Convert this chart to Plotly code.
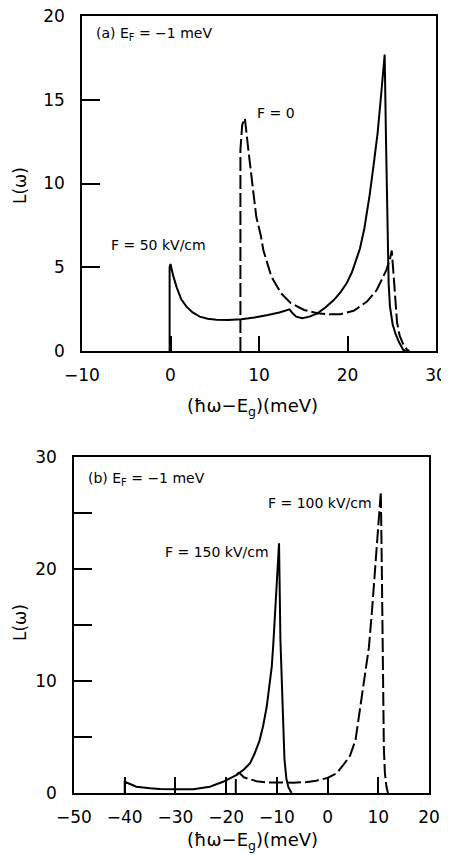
import plotly.graph_objects as go

# ---------------- data ----------------
# Panel (a): E_F = -1 meV
a_f0_x = [7.9, 7.9, 8.1, 8.4, 8.8, 9.0, 9.4, 9.7, 10.2, 10.5, 11.4, 12.5, 13.6, 15.1,
          16.6, 18.1, 19.2, 20.7, 22.2, 23.3, 24.4, 24.8, 25.0, 25.2, 25.4, 25.6, 25.9,
          26.3, 26.7, 27.0]
a_f0_y = [0.0, 12.0, 13.5, 13.9, 12.0, 11.0, 9.3, 8.0, 6.9, 6.0, 4.44, 3.44, 2.85, 2.45,
          2.25, 2.19, 2.2, 2.4, 2.95, 3.64, 4.84, 5.5, 6.0, 4.6, 2.8, 1.7, 0.9,
          0.4, 0.1, 0.0]

a_f50_x = [-0.1, -0.1, 0.0, 0.3, 0.7, 1.2, 1.8, 2.5, 3.3, 4.2, 5.2, 6.5, 8.0, 9.5, 11.0,
           12.3, 13.45, 13.8, 14.2, 14.9, 15.7, 16.6, 17.5, 18.45, 19.2, 19.9, 20.5, 21.0,
           21.4, 21.9, 22.5, 23.0, 23.4, 23.8, 24.2, 24.35, 24.5, 24.65, 24.8, 25.1, 25.4,
           25.8, 26.3, 26.7]
a_f50_y = [0.0, 5.0, 5.2, 4.5, 3.8, 3.1, 2.65, 2.3, 2.05, 1.93, 1.87, 1.85, 1.9, 2.0, 2.15,
           2.3, 2.49, 2.25, 2.05, 1.95, 2.05, 2.25, 2.6, 3.04, 3.5, 4.04, 4.7, 5.43,
           6.1, 7.3, 9.3, 11.3, 13.0, 15.3, 17.7, 12.6, 6.6, 4.0, 2.65, 1.6, 1.06,
           0.55, 0.06, 0.0]

# Panel (b): E_F = -1 meV
b_f150_x = [-40.0, -40.0, -39.3, -37.7, -35.0, -33.1, -29.7, -26.5, -23.2, -20.6, -18.0,
            -16.5, -15.3, -14.4, -13.4, -12.7, -12.0, -11.3, -11.0, -10.7, -10.35, -9.9,
            -9.57, -9.3, -9.0, -8.8, -8.5, -8.1, -7.7, -7.1]
b_f150_y = [0.0, 1.0, 0.87, 0.56, 0.42, 0.36, 0.33, 0.33, 0.56, 1.0, 1.6,
            2.1, 2.65, 3.5, 4.7, 6.0, 7.7, 10.1, 11.3, 13.3, 16.0, 19.0,
            22.3, 13.7, 9.5, 5.5, 3.0, 1.2, 0.5, 0.0]

b_f100_x = [-18.1, -18.1, -17.6, -17.3, -16.5, -15.3, -14.0, -12.0, -9.0, -6.8, -4.0, -2.2,
            0.0, 1.76, 3.1, 4.4, 5.5, 6.6, 7.4, 8.15, 8.8, 9.37, 10.0, 10.5, 10.7, 10.9,
            11.1, 11.3, 11.6, 11.9]
b_f100_y = [0.0, 1.46, 1.8, 1.76, 1.4, 1.22, 1.05, 0.95, 0.9, 0.92, 0.98, 1.1,
            1.35, 1.76, 2.5, 3.3, 4.7, 8.2, 10.8, 13.0, 16.5, 19.9, 24.4, 26.9, 19.9, 11.0,
            4.0, 1.8, 0.6, 0.0]

a_xticks = [-10, 0, 10, 20, 30]
a_yticks = [0, 5, 10, 15, 20]
b_xticks = [-50, -40, -30, -20, -10, 0, 10, 20]
b_yticks = [0, 5, 10, 15, 20, 25, 30]
b_yticklabels = ["0", "", "10", "", "20", "", "30"]

# ---------------- figure ----------------
FONT = "DejaVu Sans"
OFF = 8                      # page body margin in the browser
W, H = 449 - OFF, 855 - OFF
solid = dict(color="black", width=2)
dashed = dict(color="black", width=2, dash="14px,4px")

fig = go.Figure()
fig.add_trace(go.Scatter(x=a_f0_x, y=a_f0_y, mode="lines", line=dashed,
                         xaxis="x", yaxis="y", showlegend=False))
fig.add_trace(go.Scatter(x=a_f50_x, y=a_f50_y, mode="lines", line=solid,
                         xaxis="x", yaxis="y", showlegend=False))
fig.add_trace(go.Scatter(x=b_f100_x, y=b_f100_y, mode="lines", line=dashed,
                         xaxis="x2", yaxis="y2", showlegend=False))
fig.add_trace(go.Scatter(x=b_f150_x, y=b_f150_y, mode="lines", line=solid,
                         xaxis="x2", yaxis="y2", showlegend=False))

def px_x(p):
    return (p - OFF) / W

def px_y(p):
    return 1 - (p - OFF) / H

common = dict(showline=True, linecolor="black", linewidth=1.5, mirror=True,
              ticks="inside", tickcolor="black", tickwidth=1.5,
              showgrid=False, zeroline=False, automargin=False,
              ticklabeloverflow="allow",
              tickfont=dict(family=FONT, size=17, color="black"))

fig.update_layout(
    template="none",
    width=W, height=H,
    margin=dict(l=0, r=0, t=0, b=0, pad=0),
    paper_bgcolor="white", plot_bgcolor="white",
    xaxis=dict(domain=[px_x(82), px_x(436)], range=[-10, 30], tickvals=a_xticks,
               ticklen=15, anchor="y", ticklabelstandoff=8, **common),
    yaxis=dict(domain=[px_y(351), px_y(16)], range=[0, 20], tickvals=a_yticks,
               ticklen=18, anchor="x", ticklabelstandoff=12, **common),
    xaxis2=dict(domain=[px_x(74), px_x(429)], range=[-50, 20], tickvals=b_xticks,
                ticklen=16, anchor="y2", ticklabelstandoff=8, **common),
    yaxis2=dict(domain=[px_y(793), px_y(457)], range=[0, 30], tickvals=b_yticks,
                ticktext=b_yticklabels, ticklen=18, anchor="x2",
                ticklabelstandoff=12, **common),
)

def note(text, x, y, size=14, **kw):
    fig.add_annotation(text=text, x=px_x(x), y=px_y(y), xref="paper", yref="paper",
                       showarrow=False, xanchor=kw.pop("xanchor", "left"),
                       yanchor="middle", font=dict(family=FONT, size=size, color="black"),
                       **kw)

note("(a) E<sub>F</sub> = −1 meV", 94, 34)
note("F = 0", 255, 113)
note("F = 50 kV/cm", 109, 245)
note("(b) E<sub>F</sub> = −1 meV", 86, 479)
note("F = 100 kV/cm", 266, 503)
note("F = 150 kV/cm", 163, 552)

note("(ħω−E<sub>g</sub>)(meV)", 252, 407, size=18, xanchor="center")
note("(ħω−E<sub>g</sub>)(meV)", 252, 841, size=18, xanchor="center")
note("L(ω)", 20, 186, size=17, xanchor="center", textangle=-90)
note("L(ω)", 20, 623, size=17, xanchor="center", textangle=-90)

fig.write_html("out.html")
